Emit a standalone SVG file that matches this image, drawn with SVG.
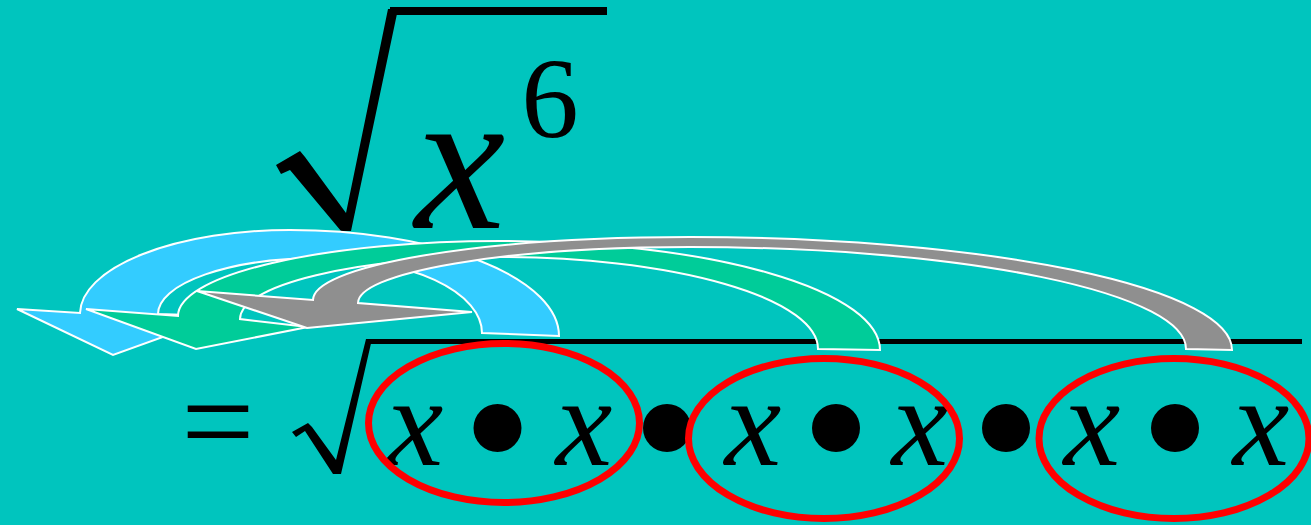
<svg xmlns="http://www.w3.org/2000/svg" width="1311" height="525" viewBox="0 0 1311 525">
<style>
.math{font-family:"Liberation Serif","Times New Roman",serif;fill:#000}
.it{font-style:italic}
.ink{fill:#000}
.ring{fill:none;stroke:#FF0000;stroke-width:7}
.arrow{stroke:#FFFFFF;stroke-width:2;stroke-linejoin:miter}
</style>
<rect width="1311" height="525" fill="#00C5BE"/>
<g id="top-radical">
<polygon class="ink" points="276,165 300,151 305,157 346,213 388,9 398,9 351,231 341,231 290,170 281,174"/>
<rect class="ink" x="390" y="7" width="217" height="8"/>
</g>
<g id="top-x"><text class="math it" x="460" y="228" font-size="204" text-anchor="middle">x</text></g>
<g id="exponent"><text class="math" x="550" y="137" font-size="115" text-anchor="middle">6</text></g>
<g id="equals"><text class="math" x="218" y="465" font-size="130" text-anchor="middle">=</text></g>
<g id="bottom-radical">
<polygon class="ink" points="292,432 308,423 312,427 336,460 366,339 372,339 341,474 333,474 305,431 296,437"/>
<rect class="ink" x="368" y="339" width="934" height="5"/>
</g>
<g id="terms">
<text class="math it" font-size="128" text-anchor="middle" y="465"><tspan x="415">x</tspan><tspan x="584">x</tspan><tspan x="753">x</tspan><tspan x="920">x</tspan><tspan x="1092">x</tspan><tspan x="1261">x</tspan></text>
<circle class="ink" cx="497.5" cy="428" r="24"/>
<circle class="ink" cx="667" cy="428" r="24"/>
<circle class="ink" cx="836" cy="428" r="24"/>
<circle class="ink" cx="1006" cy="428" r="24"/>
<circle class="ink" cx="1175" cy="428" r="24"/>
</g>
<g id="group-1"><ellipse class="ring" cx="504" cy="423" rx="135.5" ry="79.5"/></g>
<g id="group-2"><ellipse class="ring" cx="824" cy="438.5" rx="135.5" ry="80"/></g>
<g id="group-3"><ellipse class="ring" cx="1174" cy="438.5" rx="135" ry="80"/></g>
<g id="connectors">
<path class="arrow" fill="#33CCFF" d="M17,309 L80,313 A210,84 0 0 1 290,230 A269,106 0 0 1 559,336 L482,333 A162,75 0 0 0 320,258 A162,56 0 0 0 158,314 L221,316 L113,355 Z"/>
<path class="arrow" fill="#00CC99" d="M86,309 L178,316 A322,75 0 0 1 500,241 A380,109 0 0 1 880,350 L818,349 A318,92 0 0 0 500,257 A260,62 0 0 0 240,319 L308,327 L196,349 Z"/>
<path class="arrow" fill="#8F8F8F" d="M197,291 L313,300 A377,63 0 0 1 690,237 A542,113 0 0 1 1232,350 L1186,349 A496,102 0 0 0 690,247 A332,56 0 0 0 358,303 L472,312 L307,328 Z"/>
</g>
</svg>
